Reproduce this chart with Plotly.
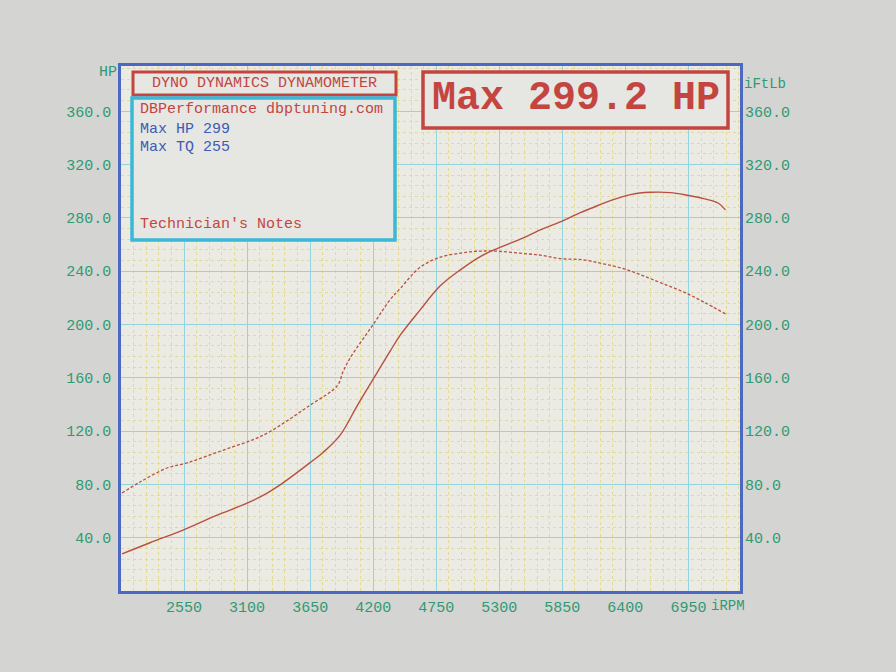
import plotly.graph_objects as go

# ---- data read from the dyno sheet ----
hp_rpm = [2009, 2253, 2541, 2838, 3100, 3275, 3388, 3650, 3763, 3912, 4060, 4200, 4348, 4436,
          4610, 4785, 4960, 5134, 5282, 5483, 5658, 5832, 6007, 6094, 6269, 6444, 6618, 6793,
          6941, 7081, 7212, 7273]
hp = [27.8, 36.2, 45.7, 56.9, 65.9, 73.5, 79.6, 96.3, 104, 117, 139, 159, 180, 192,
      211, 229, 241, 251, 257, 264, 271, 277, 284, 287, 293, 297.5, 299.2, 299.0,
      297, 294.5, 291, 286]

tq_rpm = [2009, 2166, 2402, 2576, 2777, 2978, 3153, 3301, 3650, 3886, 3939, 4000, 4200, 4348,
          4436, 4610, 4785, 4960, 5108, 5282, 5483, 5658, 5832, 6033, 6208, 6383, 6557, 6732,
          6906, 7081, 7273]
tq = [73.5, 81.8, 92.3, 96.1, 102.2, 108.3, 113.6, 119.7, 139.5, 154, 165, 175, 200, 218.7,
      227, 243, 250.5, 253.5, 255, 255, 253.5, 252, 249.5, 248.5, 245.5, 242, 236.5, 230.5,
      224.5, 217, 208]

x_ticks = [2550, 3100, 3650, 4200, 4750, 5300, 5850, 6400, 6950]
y_ticks = [40, 80, 120, 160, 200, 240, 280, 320, 360]
y_tick_text = ["%.1f" % v for v in y_ticks]

# ---- styling ----
W, H = 896, 672
L, R, T, B = 121, 740, 66, 591
FONT = "Liberation Mono"
GREEN = "#2f9a72"
RED = "#c4453f"
BLUE = "#3d5cb4"
CURVE = "#b9503e"
CYAN = "#3ab8d8"
MAJOR = "#92d4e0"
MINOR = "#e2da98"
PAPER = "#d4d4d2"


def px(p):
    return (p - L) / (R - L)


def py(p):
    return (B - p) / (B - T)


fig = go.Figure()
fig.add_trace(go.Scatter(x=hp_rpm, y=hp, mode="lines", name="HP",
                         line=dict(color=CURVE, width=1.4), line_shape="spline"))
fig.add_trace(go.Scatter(x=tq_rpm, y=tq, mode="lines", name="TQ", yaxis="y2",
                         line=dict(color=CURVE, width=1.3, dash="3px,2px"), line_shape="spline"))

axis_font = dict(family=FONT, size=15, color=GREEN)
yrange = [0, 394]

fig.update_layout(
    width=W, height=H,
    margin=dict(l=L, r=W - R, t=T, b=H - B),
    paper_bgcolor=PAPER,
    plot_bgcolor="#ebeae3",
    showlegend=False,
    xaxis=dict(range=[2000, 7400], tickvals=x_ticks, ticktext=[str(v) for v in x_ticks],
               tickfont=axis_font, showgrid=True, gridcolor=MAJOR, gridwidth=1,
               minor=dict(dtick=110, tick0=2000, showgrid=True, gridcolor=MINOR,
                          griddash="dot", gridwidth=1),
               showline=True, linecolor="#4a68c4", linewidth=2.5, mirror=True,
               ticks="", zeroline=False, fixedrange=True),
    yaxis=dict(range=yrange, tickvals=y_ticks, ticktext=y_tick_text, tickfont=axis_font,
               showgrid=True, gridcolor=MAJOR, gridwidth=1,
               minor=dict(dtick=8, tick0=0, showgrid=True, gridcolor=MINOR,
                          griddash="dot", gridwidth=1),
               showline=True, linecolor="#4a68c4", linewidth=2.5, mirror=True,
               ticks="", zeroline=False, ticklabelstandoff=4),
    yaxis2=dict(range=yrange, tickvals=y_ticks, ticktext=y_tick_text, tickfont=axis_font,
                overlaying="y", side="right", showgrid=False, zeroline=False,
                ticks="", ticklabelstandoff=4),
)

shapes = [
    # DYNO DYNAMICS title box
    dict(type="rect", xref="paper", yref="paper", x0=px(133), x1=px(396), y0=py(95), y1=py(72),
         line=dict(color=RED, width=3), fillcolor="#e6e6e3", layer="above"),
    # notes box
    dict(type="rect", xref="paper", yref="paper", x0=px(132), x1=px(395), y0=py(240), y1=py(98),
         line=dict(color=CYAN, width=3.5), fillcolor="#e6e6e3", layer="above"),
    # Max HP box
    dict(type="rect", xref="paper", yref="paper", x0=px(423), x1=px(728), y0=py(128), y1=py(72),
         line=dict(color=RED, width=3.5), fillcolor="#e6e6e3", layer="above"),
]
fig.update_layout(shapes=shapes)

ann = []


def text(x, y, s, color, size=15, anchor="left", bold=False):
    ann.append(dict(xref="paper", yref="paper", x=px(x), y=py(y), text=("<b>%s</b>" % s) if bold else s,
                    showarrow=False, xanchor=anchor, yanchor="middle",
                    font=dict(family=FONT, size=size, color=color)))


text(264, 83, "DYNO DYNAMICS DYNAMOMETER", RED, 15, "center")
text(138, 110, "DBPerformance dbptuning.com", RED, 15)
text(138, 129, "Max HP 299", BLUE, 15)
text(138, 147, "Max TQ 255", BLUE, 15)
text(138, 224, "Technician's Notes", RED, 15)
text(576, 98, "Max 299.2 HP", RED, 40, "center", bold=True)
text(119, 72, "HP", GREEN, 15, "right")
text(742, 84, "iFtLb", GREEN, 14)
text(709, 606, "iRPM", GREEN, 14)
fig.update_layout(annotations=ann)

fig.write_html(
    "out.html",
    config={"displayModeBar": False},
    post_script="document.body.style.margin='0';document.body.style.background='%s';" % PAPER,
)
